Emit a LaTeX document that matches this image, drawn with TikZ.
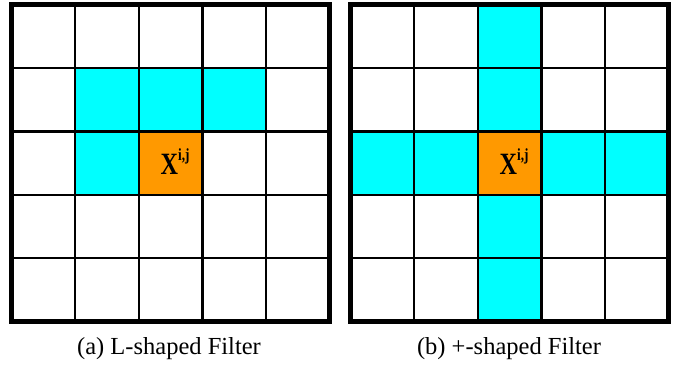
\documentclass[tikz,border=0pt]{standalone}
\usepackage[no-math]{fontspec}
\setmainfont{Liberation Serif}
\definecolor{cyanc}{RGB}{0,255,255}
\definecolor{orangec}{RGB}{255,153,0}
\tikzset{
  inner/.style={line width=2.4pt, draw=black},
  outer/.style={line width=4.6pt, draw=black},
  cyanfill/.style={fill=cyanc},
  orangefill/.style={fill=orangec},
  caption/.style={anchor=base, inner sep=0pt, font=\fontsize{24.5}{26}\selectfont},
  center/.style={inner sep=0pt, font=\fontsize{31}{33}\selectfont\bfseries}
}
\newcommand{\xij}{\scalebox{0.78}[1]{X\raisebox{0.42em}{\fontsize{17}{18}\selectfont\bfseries i,j}}}
\newcommand{\mycell}[5]{% grid x0, y0, col, row, style
  \fill[#5] ({#1+#3*63.6},{#2+#4*63.4}) rectangle ++(63.6,63.4);}
\newcommand{\mygrid}[2]{%
  \foreach \i in {1,2,3,4}{
    \draw[inner] ({#1+\i*63.6},#2) -- ++(0,317);
    \draw[inner] (#1,{#2+\i*63.4}) -- ++(318,0);
  }
  \draw[outer] (#1,#2) rectangle ++(318,317);}
\begin{document}
\begin{tikzpicture}[x=1pt,y=-1pt]
\useasboundingbox (0,0) rectangle (683,368);
% left grid
\mycell{11.5}{4.5}{1}{1}{cyanfill}
\mycell{11.5}{4.5}{2}{1}{cyanfill}
\mycell{11.5}{4.5}{3}{1}{cyanfill}
\mycell{11.5}{4.5}{1}{2}{cyanfill}
\mycell{11.5}{4.5}{2}{2}{orangefill}
\mygrid{11.5}{4.5}
\node[center, anchor=base west] (xa) at (160.5,174) {\xij};
% right grid
\foreach \k in {0,1,3,4}{
  \mycell{350.5}{4.5}{2}{\k}{cyanfill}
  \mycell{350.5}{4.5}{\k}{2}{cyanfill}
}
\mycell{350.5}{4.5}{2}{2}{orangefill}
\mygrid{350.5}{4.5}
\node[center, anchor=base west] (xb) at (499.5,174) {\xij};
% captions
\node[caption] (capa) at (169,354.5) {(a) L-shaped Filter};
\node[caption] (capb) at (509,354.5) {(b) +-shaped Filter};
\end{tikzpicture}
\end{document}
